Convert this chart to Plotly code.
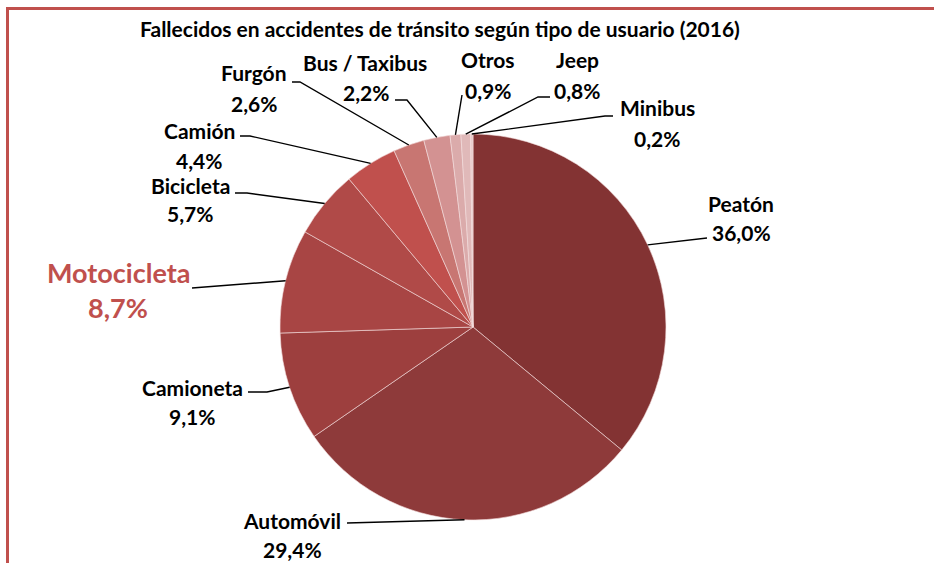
import math
import plotly.graph_objects as go

# ---------------- data ----------------
title_text = "Fallecidos en accidentes de tránsito según tipo de usuario (2016)"
labels = ["Peatón", "Automóvil", "Camioneta", "Motocicleta", "Bicicleta", "Camión",
          "Furgón", "Bus / Taxibus", "Otros", "Jeep", "Minibus"]
values = [36.0, 29.4, 9.1, 8.7, 5.7, 4.4, 2.6, 2.2, 0.9, 0.8, 0.2]
highlight = "Motocicleta"

# ---------------- style ----------------
colors = ["#833333", "#8e3a3a", "#9d3f3e", "#a84544", "#b04a48", "#c0504d",
          "#c87672", "#d39292", "#dbabab", "#e0b9b9", "#e9cbcb"]
FONT = "Lato"
W, H = 934, 563
CX, CY, R = 473, 327, 193          # pie centre / radius in pixels

# label name centre (px) and gap to the percentage line
label_pos = [(741, 203), (292, 520), (192, 387), (118, 272), (190, 185), (199, 130),
             (254, 73), (365, 63), (488, 60), (577, 60), (657, 108)]
pct_gap = [29, 29, 29, 35, 28, 30, 30, 29, 30, 30, 30]
pct_dx = [0, 0, 0, 0, 0, 0, 0, 1, 0, 0, 0]
# leader line bend points (px) after the slice edge point
elbows = [[(707, 238)], [(347, 523)], [(267, 392), (248, 392)], [(192, 288)],
          [(247, 193), (235, 193)], [(250, 136), (240, 136)], [(300, 82), (292, 82)],
          [(407, 100), (395, 100)], [(462, 95)], [(538, 97), (550, 97)],
          [(605, 116), (613, 116)]]


def fx(x):
    return x / W


def fy(y):
    return 1 - y / H


fig = go.Figure()
fig.add_trace(go.Pie(
    labels=labels, values=values, sort=False, direction="clockwise", rotation=0,
    marker=dict(colors=colors, line=dict(color="#f4dede", width=0.6)),
    textinfo="none", hoverinfo="label+percent", showlegend=False,
    domain=dict(x=[fx(CX - R), fx(CX + R)], y=[fy(CY + R), fy(CY - R)]),
))

annotations = []
shapes = []
total = sum(values)
cum = 0.0
for i, (lab, v) in enumerate(zip(labels, values)):
    mid = (cum + v / 2) / total
    cum += v
    ang = 2 * math.pi * mid
    sx = CX + R * math.sin(ang)
    sy = CY - R * math.cos(ang)
    pts = [(sx, sy)] + elbows[i]
    path = "M " + " L ".join(f"{fx(x):.5f},{fy(y):.5f}" for x, y in pts)
    shapes.append(dict(type="path", xref="paper", yref="paper", path=path,
                       line=dict(color="#000000", width=1.4)))
    big = lab == highlight
    col = "#c0504d" if big else "#000000"
    size = 27 if big else 21
    nx, ny = label_pos[i]
    pct = f"{v:.1f}".replace(".", ",") + "%"
    annotations.append(dict(x=fx(nx), y=fy(ny), xref="paper", yref="paper",
                            text=f"<b>{lab}</b>", showarrow=False,
                            xanchor="center", yanchor="middle",
                            font=dict(family=FONT, size=size, color=col)))
    annotations.append(dict(x=fx(nx + pct_dx[i]), y=fy(ny + pct_gap[i]), xref="paper", yref="paper",
                            text=f"<b>{pct}</b>", showarrow=False,
                            xanchor="center", yanchor="middle",
                            font=dict(family=FONT, size=size, color=col)))

annotations.append(dict(x=fx(440), y=fy(28), xref="paper", yref="paper",
                        text=f"<b>{title_text}</b>", showarrow=False,
                        xanchor="center", yanchor="middle",
                        font=dict(family=FONT, size=21, color="#000000")))

# outer frame (top and left edges visible)
shapes.append(dict(type="line", xref="paper", yref="paper",
                   x0=fx(6), x1=fx(W + 5), y0=fy(8.5), y1=fy(8.5),
                   line=dict(color="#c0504d", width=3)))
shapes.append(dict(type="line", xref="paper", yref="paper",
                   x0=fx(7.5), x1=fx(7.5), y0=fy(7), y1=fy(H + 5),
                   line=dict(color="#c0504d", width=3)))

fig.update_layout(
    width=W, height=H, margin=dict(l=0, r=0, t=0, b=0),
    paper_bgcolor="white", plot_bgcolor="white",
    annotations=annotations, shapes=shapes,
    font=dict(family=FONT),
)

fig.write_html("out.html", config={"displayModeBar": False},
               post_script="document.body.style.margin='0';document.body.style.overflow='hidden';")
